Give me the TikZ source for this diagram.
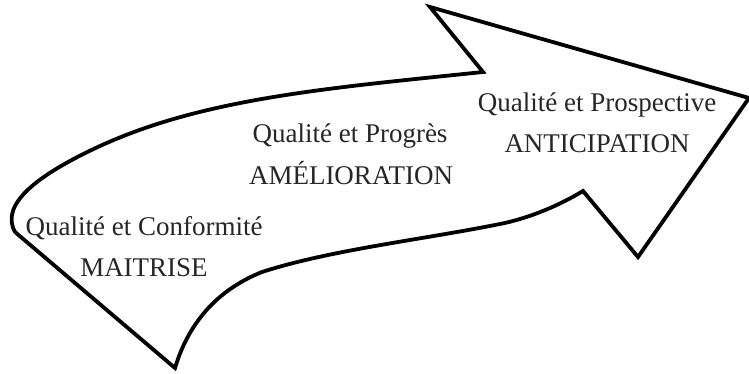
\documentclass[tikz,border=0pt]{standalone}
\usepackage{fontspec}
\setmainfont{Liberation Serif}
\begin{document}
\begin{tikzpicture}[x=1pt,y=-1pt,
  outline/.style={draw=black,line width=3.8pt,line join=miter,fill=white},
  lbl/.style={anchor=base,inner sep=0pt,text=black!85,font=\fontsize{27}{40}\selectfont}]
\fill[white] (0,0) rectangle (749,374);
\useasboundingbox (0,0) rectangle (749,374);
\draw[outline] (430,7) -- (483,72)
  .. controls (330,88) and (205,98) .. (100,146)
  .. controls (35,176) and (0,205) .. (15,232)
  -- (175,368)
  .. controls (190,318) and (222,288) .. (262,272)
  .. controls (330,250) and (420,240) .. (500,224)
  .. controls (530,218) and (560,205) .. (583,191)
  -- (638,257) -- (749,98) -- cycle;
\node[lbl] (c1) at (144,235) {Qualité et Conformité};
\node[lbl] (c2) at (144,276) {MAITRISE};
\node[lbl] (p1) at (350,143) {Qualité et Progrès};
\node[lbl] (p2) at (351,185) {AMÉLIORATION};
\node[lbl] (a1) at (597,112) {Qualité et Prospective};
\node[lbl] (a2) at (597,153) {ANTICIPATION};
\end{tikzpicture}
\end{document}
